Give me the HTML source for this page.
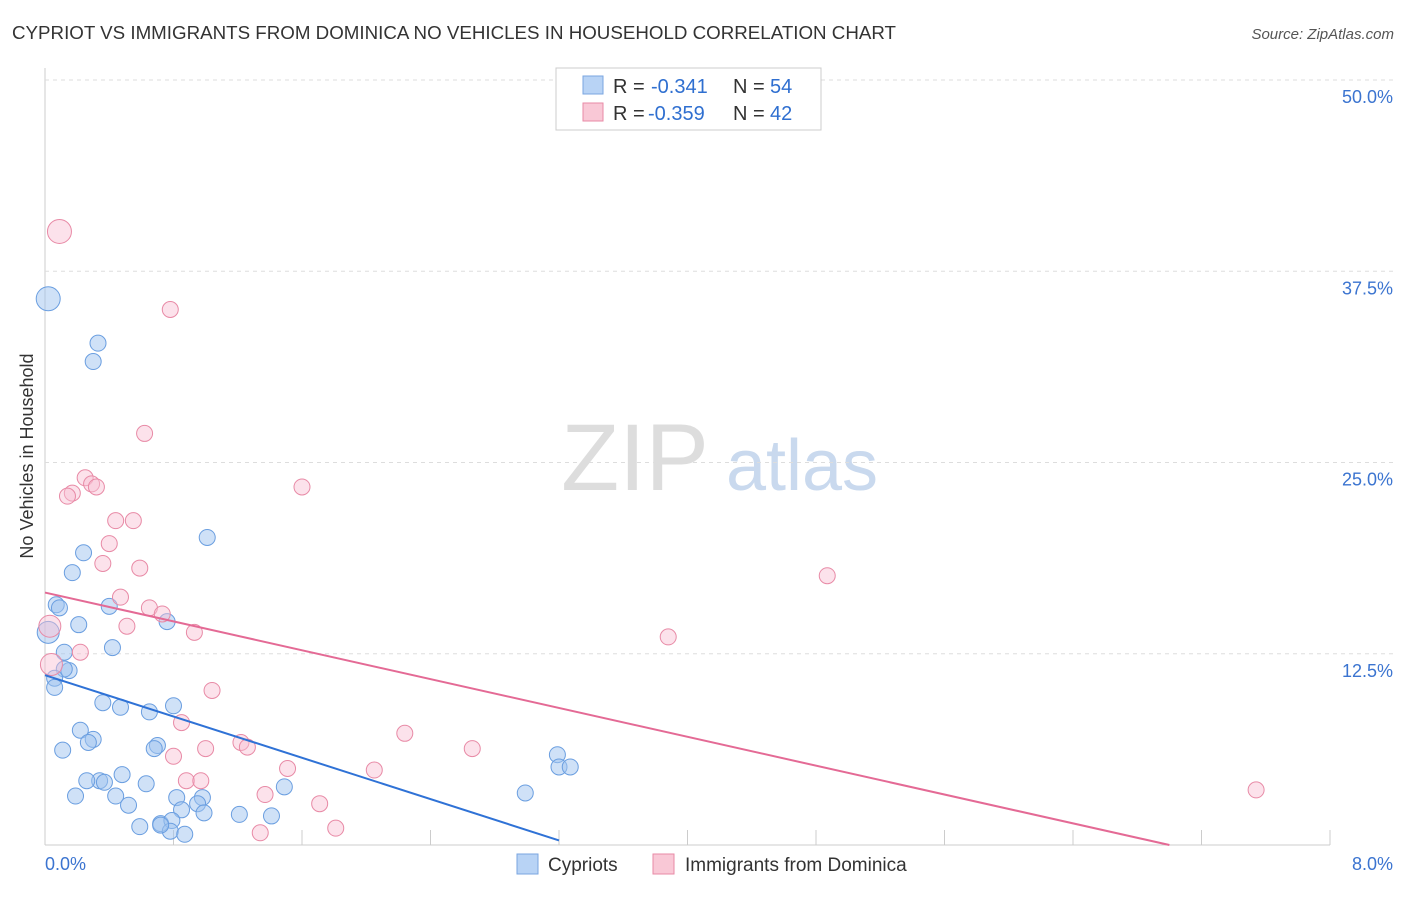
<!DOCTYPE html>
<html><head><meta charset="utf-8"><style>
body{margin:0;background:#fff;font-family:"Liberation Sans",sans-serif;}
svg text{font-family:"Liberation Sans",sans-serif;}
</style></head><body>
<svg id="chart" width="1406" height="892">
<text x="12" y="39" font-size="18" fill="#333" textLength="884" lengthAdjust="spacingAndGlyphs">CYPRIOT VS IMMIGRANTS FROM DOMINICA NO VEHICLES IN HOUSEHOLD CORRELATION CHART</text>
<text x="1394" y="39" font-size="15" fill="#555" font-style="italic" text-anchor="end">Source: ZipAtlas.com</text>
<text x="33" y="456" font-size="18" fill="#333" text-anchor="middle" transform="rotate(-90 33 456)">No Vehicles in Household</text>
<g><text x="635" y="490" font-size="95" fill="#ddd" font-family="Liberation Serif" text-anchor="middle">ZIP</text><text x="802" y="490" font-size="72" fill="#c9d9ee" text-anchor="middle">atlas</text></g>
<g id="grid"></g><g id="marks"></g>
<g>
<rect x="556" y="68" width="265" height="62" fill="#fff" stroke="#ccc"/>
<rect x="583" y="76" width="20" height="18" fill="#b8d3f5" stroke="#7aa6e0"/>
<text x="613" y="93" font-size="20" fill="#333">R =</text><text x="651" y="93" font-size="20" fill="#2f6fd0">-0.341</text>
<text x="733" y="93" font-size="20" fill="#333">N =</text><text x="770" y="93" font-size="20" fill="#2f6fd0">54</text>
<rect x="583" y="103" width="20" height="18" fill="#f9c8d6" stroke="#e88aa6"/>
<text x="613" y="120" font-size="20" fill="#333">R =</text><text x="648" y="120" font-size="20" fill="#2f6fd0">-0.359</text>
<text x="733" y="120" font-size="20" fill="#333">N =</text><text x="770" y="120" font-size="20" fill="#2f6fd0">42</text>
</g>
<g>
<rect x="517" y="854" width="21" height="20" fill="#b8d3f5" stroke="#7aa6e0"/>
<text x="548" y="871" font-size="19" fill="#333">Cypriots</text>
<rect x="653" y="854" width="21" height="20" fill="#f9c8d6" stroke="#e88aa6"/>
<text x="685" y="871" font-size="19" fill="#333">Immigrants from Dominica</text>
</g>
</svg>
<script>
const yTicks=[12.5,25,37.5,50];
const xTicks=[0,0.8,1.6,2.4,3.2,4,4.8,5.6,6.4,7.2,8];
const blueX=[0.02,0.33,0.30,1.01,0.24,0.17,0.07,0.09,0.40,0.21,0.76,0.02,0.42,0.12,0.15,0.12,0.06,0.06,0.36,0.47,0.80,0.65,0.22,0.30,0.27,0.70,0.68,0.11,3.19,3.20,3.27,0.48,0.34,0.26,0.37,0.63,1.49,2.99,0.19,0.44,0.82,0.98,0.52,0.95,0.85,0.99,1.21,1.41,0.59,0.72,0.79,0.78,0.87,0.72];
const blueY=[35.7,32.8,31.6,20.1,19.1,17.8,15.7,15.5,15.6,14.4,14.6,13.9,12.9,12.6,11.4,11.5,10.9,10.3,9.3,9.0,9.1,8.7,7.5,6.9,6.7,6.5,6.3,6.2,5.9,5.1,5.1,4.6,4.2,4.2,4.1,4.0,3.8,3.4,3.2,3.2,3.1,3.1,2.6,2.7,2.3,2.1,2.0,1.9,1.2,1.4,1.6,0.9,0.7,1.3];
const blueS=[12,8,8,8,8,8,8,8,8,8,8,11,8,8,8,8,8,8,8,8,8,8,8,8,8,8,8,8,8,8,8,8,8,8,8,8,8,8,8,8,8,8,8,8,8,8,8,8,8,8,8,8,8,8];
const pinkX=[0.09,0.78,0.62,0.25,0.29,0.32,0.17,0.14,1.60,0.44,0.55,0.40,0.36,0.59,4.87,0.47,0.65,0.73,0.51,0.93,0.03,3.88,0.22,0.04,1.04,0.85,2.24,1.22,1.26,1.00,2.66,0.80,1.51,2.05,0.88,0.97,1.37,1.71,7.54,1.81,1.34];
const pinkY=[40.1,35.0,26.9,24.0,23.6,23.4,23.0,22.8,23.4,21.2,21.2,19.7,18.4,18.1,17.6,16.2,15.5,15.1,14.3,13.9,14.3,13.6,12.6,11.8,10.1,8.0,7.3,6.7,6.4,6.3,6.3,5.8,5.0,4.9,4.2,4.2,3.3,2.7,3.6,1.1,0.8];
const pinkS=[12,8,8,8,8,8,8,8,8,8,8,8,8,8,8,8,8,8,8,8,11,8,8,11,8,8,8,8,8,8,8,8,8,8,8,8,8,8,8,8,8];
const blueTrend=[[0,11.1],[3.2,0.3]];
const pinkTrend=[[0,16.5],[7.0,0]];
const X=v=>45+v/8*1285, Y=v=>845-v/50*765;
const NS='http://www.w3.org/2000/svg';
const g=document.getElementById('grid'), m=document.getElementById('marks');
function mk(t,a,p){const e=document.createElementNS(NS,t);for(const k in a)e.setAttribute(k,a[k]);p.appendChild(e);return e;}
let ax=mk('line',{x1:45,y1:68,x2:45,y2:845,stroke:'#ccc'},g);


let bx=mk('line',{x1:45,y1:845,x2:1330,y2:845,stroke:'#ccc'},g);


yTicks.forEach(v=>{
 const l=mk('line',{x1:45,x2:1394,y1:Y(v),y2:Y(v),stroke:'#ddd','stroke-dasharray':'4,4'},g);
 
 
 const t=mk('text',{x:1393,y:Y(v)+23,'font-size':18,fill:'#3b74d0','text-anchor':'end'},g);
 t.textContent=v.toFixed(1)+'%';
 
 
});
xTicks.forEach(v=>{
 const l=mk('line',{x1:X(v),x2:X(v),y1:830,y2:845,stroke:'#ccc'},g);
 
 
});
[[0,45,'start'],[8,1393,'end']].forEach(([v,x,a])=>{
 const t=mk('text',{x:x,y:870,'font-size':18,fill:'#3b74d0','text-anchor':a},g);
 t.textContent=v.toFixed(1)+'%';
 
 
});
blueX.forEach((v,i)=>{
 const c=mk('circle',{cx:X(v),cy:Y(blueY[i]),r:blueS[i],fill:'rgba(160,195,240,0.5)',stroke:'#6a9ee0','stroke-width':1},m);
 
 
});
pinkX.forEach((v,i)=>{
 const c=mk('circle',{cx:X(v),cy:Y(pinkY[i]),r:pinkS[i],fill:'rgba(248,190,210,0.45)',stroke:'#e88aa6','stroke-width':1},m);
 
 
});
let bl=mk('line',{x1:X(blueTrend[0][0]),y1:Y(blueTrend[0][1]),x2:X(blueTrend[1][0]),y2:Y(blueTrend[1][1]),stroke:'#2f72d6','stroke-width':2},m);


let pl=mk('line',{x1:X(pinkTrend[0][0]),y1:Y(pinkTrend[0][1]),x2:X(pinkTrend[1][0]),y2:Y(pinkTrend[1][1]),stroke:'#e46a95','stroke-width':2},m);


</script>
</body></html>
